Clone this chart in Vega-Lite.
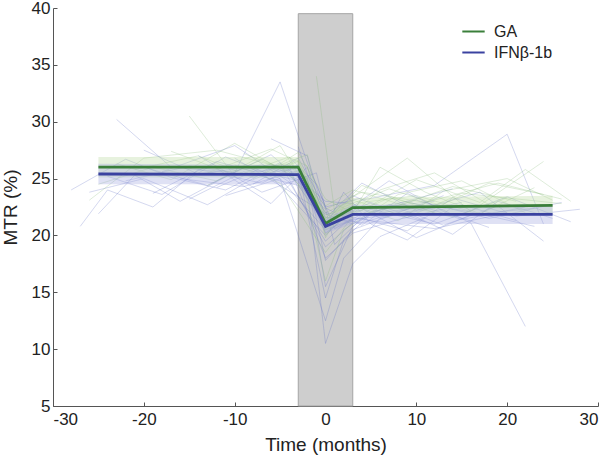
{
  "$schema": "https://vega.github.io/schema/vega-lite/v6.json",
  "width": 545,
  "height": 398,
  "autosize": "none",
  "padding": {"left": 53, "top": 8, "right": 12, "bottom": 49},
  "background": "white",
  "config": {
    "view": {"stroke": null},
    "font": "Liberation Sans",
    "axis": {"grid": false, "domainColor": "#555", "tickColor": "#555", "labelColor": "#222", "titleColor": "#222", "labelFont": "Liberation Sans", "titleFont": "Liberation Sans", "labelFontSize": 17, "titleFontSize": 19, "titleFontWeight": "normal", "tickSize": -4, "labelPadding": 9, "labelExpr": "datum.value + ''"}
  },
  "datasets": {
    "rect": [{"x1": -3, "x2": 3, "y1": 5, "y2": 39.5}],
    "main": [
      {"g": "GA", "t": -25, "v": 26.0, "lo": 25.1, "hi": 26.9},
      {"g": "GA", "t": -3, "v": 26.0, "lo": 25.1, "hi": 26.9},
      {"g": "GA", "t": 0, "v": 21.05, "lo": 20.4, "hi": 21.7},
      {"g": "GA", "t": 3, "v": 22.45, "lo": 21.8, "hi": 23.3},
      {"g": "GA", "t": 25, "v": 22.65, "lo": 21.9, "hi": 23.5},
      {"g": "IFNβ-1b", "t": -25, "v": 25.4, "lo": 24.5, "hi": 26.3},
      {"g": "IFNβ-1b", "t": -3, "v": 25.35, "lo": 24.5, "hi": 26.2},
      {"g": "IFNβ-1b", "t": 0, "v": 20.8, "lo": 20.2, "hi": 21.4},
      {"g": "IFNβ-1b", "t": 3, "v": 21.85, "lo": 21.0, "hi": 22.7},
      {"g": "IFNβ-1b", "t": 25, "v": 21.85, "lo": 21.0, "hi": 22.7}
    ],
    "subj": [
      {"id":1,"g":"I","t":-22,"v":24.8},{"id":1,"g":"I","t":-15,"v":26.1},{"id":1,"g":"I","t":-8,"v":25.3},{"id":1,"g":"I","t":-3,"v":25.9},{"id":1,"g":"I","t":0,"v":20.2},{"id":1,"g":"I","t":3,"v":22.1},{"id":1,"g":"I","t":9,"v":23.0},{"id":1,"g":"I","t":15,"v":21.4},{"id":1,"g":"I","t":22,"v":22.5},
      {"id":2,"g":"I","t":-18,"v":25.6},{"id":2,"g":"I","t":-10,"v":27.9},{"id":2,"g":"I","t":-4,"v":24.7},{"id":2,"g":"I","t":0,"v":19.5},{"id":2,"g":"I","t":2,"v":21.0},{"id":2,"g":"I","t":8,"v":22.8},{"id":2,"g":"I","t":14,"v":24.1},
      {"id":3,"g":"G","t":-26,"v":23.1},{"id":3,"g":"G","t":-20,"v":26.8},{"id":3,"g":"G","t":-12,"v":27.5},{"id":3,"g":"G","t":-5,"v":26.0},{"id":3,"g":"G","t":0,"v":22.3},{"id":3,"g":"G","t":4,"v":23.8},{"id":3,"g":"G","t":11,"v":22.9},{"id":3,"g":"G","t":19,"v":24.6},{"id":3,"g":"G","t":26,"v":23.2},
      {"id":4,"g":"I","t":-12,"v":24.2},{"id":4,"g":"I","t":-6,"v":26.3},{"id":4,"g":"I","t":-2,"v":25.1},{"id":4,"g":"I","t":0,"v":17.8},{"id":4,"g":"I","t":3,"v":20.5},{"id":4,"g":"I","t":7,"v":21.7},{"id":4,"g":"I","t":13,"v":23.5},
      {"id":5,"g":"G","t":-9,"v":27.2},{"id":5,"g":"G","t":-4,"v":25.6},{"id":5,"g":"G","t":0,"v":21.0},{"id":5,"g":"G","t":3,"v":23.4},{"id":5,"g":"G","t":9,"v":26.8},{"id":5,"g":"G","t":16,"v":22.1},
      {"id":6,"g":"I","t":-27,"v":20.8},{"id":6,"g":"I","t":-24,"v":24.0},{"id":6,"g":"I","t":-19,"v":22.5},{"id":6,"g":"I","t":-14,"v":25.8},{"id":6,"g":"I","t":-7,"v":24.6},{"id":6,"g":"I","t":-3,"v":26.2},{"id":6,"g":"I","t":0,"v":22.0},{"id":6,"g":"I","t":5,"v":21.3},{"id":6,"g":"I","t":12,"v":20.6},{"id":6,"g":"I","t":20,"v":22.0},
      {"id":7,"g":"I","t":-6,"v":28.5},{"id":7,"g":"I","t":-2,"v":27.0},{"id":7,"g":"I","t":0,"v":21.5},{"id":7,"g":"I","t":4,"v":24.6},{"id":7,"g":"I","t":10,"v":22.2},{"id":7,"g":"I","t":17,"v":23.8},{"id":7,"g":"I","t":24,"v":19.5},
      {"id":8,"g":"G","t":-15,"v":30.5},{"id":8,"g":"G","t":-10,"v":25.2},{"id":8,"g":"G","t":-4,"v":26.9},{"id":8,"g":"G","t":0,"v":20.8},{"id":8,"g":"G","t":3,"v":21.9},{"id":8,"g":"G","t":6,"v":24.0},{"id":8,"g":"G","t":12,"v":25.5},{"id":8,"g":"G","t":18,"v":22.7},
      {"id":9,"g":"I","t":-11,"v":23.5},{"id":9,"g":"I","t":-5,"v":25.0},{"id":9,"g":"I","t":0,"v":12.5},{"id":9,"g":"I","t":2,"v":18.0},{"id":9,"g":"I","t":6,"v":21.5},{"id":9,"g":"I","t":12,"v":22.6},
      {"id":10,"g":"I","t":-20,"v":26.0},{"id":10,"g":"I","t":-13,"v":24.4},{"id":10,"g":"I","t":-6,"v":27.1},{"id":10,"g":"I","t":0,"v":23.0},{"id":10,"g":"I","t":3,"v":22.8},{"id":10,"g":"I","t":10,"v":19.8},{"id":10,"g":"I","t":16,"v":21.8},{"id":10,"g":"I","t":23,"v":22.4},
      {"id":11,"g":"G","t":-8,"v":24.9},{"id":11,"g":"G","t":-3,"v":26.5},{"id":11,"g":"G","t":0,"v":16.0},{"id":11,"g":"G","t":2,"v":20.5},{"id":11,"g":"G","t":8,"v":23.6},{"id":11,"g":"G","t":15,"v":24.8},{"id":11,"g":"G","t":22,"v":22.0},
      {"id":12,"g":"I","t":-25,"v":21.9},{"id":12,"g":"I","t":-21,"v":25.3},{"id":12,"g":"I","t":-16,"v":23.0},{"id":12,"g":"I","t":-9,"v":26.0},{"id":12,"g":"I","t":-3,"v":24.8},{"id":12,"g":"I","t":0,"v":21.1},{"id":12,"g":"I","t":5,"v":22.9},{"id":12,"g":"I","t":11,"v":21.2},
      {"id":13,"g":"I","t":-14,"v":27.0},{"id":13,"g":"I","t":-7,"v":23.8},{"id":13,"g":"I","t":-1,"v":25.5},{"id":13,"g":"I","t":1,"v":19.2},{"id":13,"g":"I","t":4,"v":21.5},{"id":13,"g":"I","t":9,"v":20.4},{"id":13,"g":"I","t":14,"v":23.3},{"id":13,"g":"I","t":21,"v":21.7},{"id":13,"g":"I","t":28,"v":22.3},
      {"id":14,"g":"G","t":-23,"v":26.3},{"id":14,"g":"G","t":-17,"v":24.9},{"id":14,"g":"G","t":-10,"v":28.1},{"id":14,"g":"G","t":-4,"v":25.4},{"id":14,"g":"G","t":0,"v":21.8},{"id":14,"g":"G","t":3,"v":22.6},{"id":14,"g":"G","t":8,"v":21.3},{"id":14,"g":"G","t":13,"v":23.9},{"id":14,"g":"G","t":20,"v":25.0},{"id":14,"g":"G","t":25,"v":23.1},
      {"id":15,"g":"I","t":-5,"v":25.8},{"id":15,"g":"I","t":-2,"v":24.1},{"id":15,"g":"I","t":0,"v":10.5},{"id":15,"g":"I","t":3,"v":17.5},{"id":15,"g":"I","t":6,"v":19.9},{"id":15,"g":"I","t":11,"v":21.6},
      {"id":16,"g":"I","t":-19,"v":23.7},{"id":16,"g":"I","t":-12,"v":26.5},{"id":16,"g":"I","t":-6,"v":25.2},{"id":16,"g":"I","t":0,"v":20.0},{"id":16,"g":"I","t":4,"v":23.1},{"id":16,"g":"I","t":12,"v":24.4},{"id":16,"g":"I","t":20,"v":28.9},{"id":16,"g":"I","t":24,"v":21.0},
      {"id":17,"g":"G","t":-13,"v":25.5},{"id":17,"g":"G","t":-6,"v":27.6},{"id":17,"g":"G","t":-2,"v":26.1},{"id":17,"g":"G","t":0,"v":19.8},{"id":17,"g":"G","t":2,"v":22.5},{"id":17,"g":"G","t":7,"v":24.1},{"id":17,"g":"G","t":14,"v":22.3},
      {"id":18,"g":"I","t":-10,"v":26.8},{"id":18,"g":"I","t":-4,"v":23.9},{"id":18,"g":"I","t":0,"v":21.9},{"id":18,"g":"I","t":3,"v":21.0},{"id":18,"g":"I","t":7,"v":22.7},{"id":18,"g":"I","t":13,"v":20.9},{"id":18,"g":"I","t":19,"v":22.6},
      {"id":19,"g":"I","t":-28,"v":24.0},{"id":19,"g":"I","t":-22,"v":26.7},{"id":19,"g":"I","t":-17,"v":25.1},{"id":19,"g":"I","t":-11,"v":24.0},{"id":19,"g":"I","t":-5,"v":26.4},{"id":19,"g":"I","t":0,"v":19.0},{"id":19,"g":"I","t":4,"v":21.8},{"id":19,"g":"I","t":10,"v":23.1},{"id":19,"g":"I","t":18,"v":21.5},{"id":19,"g":"I","t":26,"v":22.9},
      {"id":20,"g":"G","t":-7,"v":25.3},{"id":20,"g":"G","t":-3,"v":27.3},{"id":20,"g":"G","t":0,"v":23.2},{"id":20,"g":"G","t":3,"v":22.0},{"id":20,"g":"G","t":6,"v":26.0},{"id":20,"g":"G","t":11,"v":23.8},{"id":20,"g":"G","t":17,"v":21.9},{"id":20,"g":"G","t":23,"v":24.2},
      {"id":21,"g":"I","t":-16,"v":25.0},{"id":21,"g":"I","t":-9,"v":24.3},{"id":21,"g":"I","t":-3,"v":25.7},{"id":21,"g":"I","t":0,"v":14.5},{"id":21,"g":"I","t":2,"v":19.6},{"id":21,"g":"I","t":5,"v":21.9},{"id":21,"g":"I","t":10,"v":22.4},
      {"id":22,"g":"I","t":-4,"v":26.9},{"id":22,"g":"I","t":-1,"v":24.5},{"id":22,"g":"I","t":1,"v":20.6},{"id":22,"g":"I","t":5,"v":22.3},{"id":22,"g":"I","t":12,"v":21.0},{"id":22,"g":"I","t":20,"v":23.4},{"id":22,"g":"I","t":27,"v":21.2},
      {"id":23,"g":"G","t":-21,"v":25.8},{"id":23,"g":"G","t":-14,"v":27.0},{"id":23,"g":"G","t":-8,"v":25.1},{"id":23,"g":"G","t":-3,"v":26.6},{"id":23,"g":"G","t":0,"v":21.2},{"id":23,"g":"G","t":4,"v":22.9},{"id":23,"g":"G","t":10,"v":23.5},{"id":23,"g":"G","t":16,"v":22.1},{"id":23,"g":"G","t":24,"v":26.5},
      {"id":24,"g":"I","t":-12,"v":25.9},{"id":24,"g":"I","t":-6,"v":22.8},{"id":24,"g":"I","t":-2,"v":26.0},{"id":24,"g":"I","t":0,"v":21.3},{"id":24,"g":"I","t":3,"v":23.5},{"id":24,"g":"I","t":8,"v":21.8},{"id":24,"g":"I","t":15,"v":22.9},
      {"id":25,"g":"I","t":-24,"v":25.2},{"id":25,"g":"I","t":-18,"v":23.6},{"id":25,"g":"I","t":-11,"v":26.9},{"id":25,"g":"I","t":-5,"v":25.0},{"id":25,"g":"I","t":0,"v":20.5},{"id":25,"g":"I","t":3,"v":21.4},{"id":25,"g":"I","t":9,"v":22.0},{"id":25,"g":"I","t":14,"v":20.1},{"id":25,"g":"I","t":19,"v":23.0},{"id":25,"g":"I","t":25,"v":21.5},
      {"id":26,"g":"G","t":-10,"v":26.2},{"id":26,"g":"G","t":-5,"v":24.6},{"id":26,"g":"G","t":0,"v":18.5},{"id":26,"g":"G","t":3,"v":21.7},{"id":26,"g":"G","t":8,"v":22.6},{"id":26,"g":"G","t":14,"v":24.3},{"id":26,"g":"G","t":21,"v":23.0},
      {"id":27,"g":"I","t":-8,"v":24.5},{"id":27,"g":"I","t":-3,"v":26.8},{"id":27,"g":"I","t":0,"v":22.4},{"id":27,"g":"I","t":4,"v":20.9},{"id":27,"g":"I","t":9,"v":23.7},{"id":27,"g":"I","t":16,"v":21.1},{"id":27,"g":"I","t":22,"v":12.0},
      {"id":28,"g":"G","t":-17,"v":27.4},{"id":28,"g":"G","t":-11,"v":25.6},{"id":28,"g":"G","t":-4,"v":26.3},{"id":28,"g":"G","t":0,"v":22.0},{"id":28,"g":"G","t":3,"v":23.1},{"id":28,"g":"G","t":9,"v":21.6},{"id":28,"g":"G","t":15,"v":23.7},{"id":28,"g":"G","t":26,"v":22.8},
      {"id":29,"g":"I","t":-15,"v":23.2},{"id":29,"g":"I","t":-9,"v":25.6},{"id":29,"g":"I","t":-3,"v":24.4},{"id":29,"g":"I","t":0,"v":20.9},{"id":29,"g":"I","t":2,"v":22.0},{"id":29,"g":"I","t":7,"v":24.8},{"id":29,"g":"I","t":13,"v":22.1},{"id":29,"g":"I","t":18,"v":20.7},
      {"id":30,"g":"I","t":-20,"v":27.5},{"id":30,"g":"I","t":-14,"v":25.4},{"id":30,"g":"I","t":-7,"v":26.2},{"id":30,"g":"I","t":-2,"v":25.0},{"id":30,"g":"I","t":0,"v":15.5},{"id":30,"g":"I","t":3,"v":20.8},{"id":30,"g":"I","t":6,"v":22.5},{"id":30,"g":"I","t":12,"v":23.0},
      {"id":31,"g":"G","t":-6,"v":25.9},{"id":31,"g":"G","t":-2,"v":27.1},{"id":31,"g":"G","t":0,"v":20.1},{"id":31,"g":"G","t":2,"v":21.5},{"id":31,"g":"G","t":7,"v":23.3},{"id":31,"g":"G","t":12,"v":22.4},{"id":31,"g":"G","t":18,"v":24.6},{"id":31,"g":"G","t":24,"v":23.6},
      {"id":32,"g":"I","t":-26,"v":23.8},{"id":32,"g":"I","t":-20,"v":25.0},{"id":32,"g":"I","t":-13,"v":22.7},{"id":32,"g":"I","t":-6,"v":25.9},{"id":32,"g":"I","t":-3,"v":24.9},{"id":32,"g":"I","t":0,"v":21.6},{"id":32,"g":"I","t":4,"v":21.1},{"id":32,"g":"I","t":11,"v":22.8},{"id":32,"g":"I","t":17,"v":21.9},{"id":32,"g":"I","t":23,"v":20.8},
      {"id":33,"g":"G","t":-13,"v":24.4},{"id":33,"g":"G","t":-7,"v":26.7},{"id":33,"g":"G","t":-3,"v":25.2},{"id":33,"g":"G","t":0,"v":22.6},{"id":33,"g":"G","t":3,"v":24.0},{"id":33,"g":"G","t":8,"v":22.8},{"id":33,"g":"G","t":14,"v":21.6},{"id":33,"g":"G","t":20,"v":23.3},
      {"id":34,"g":"I","t":-9,"v":25.4},{"id":34,"g":"I","t":-4,"v":26.1},{"id":34,"g":"I","t":0,"v":18.0},{"id":34,"g":"I","t":3,"v":20.2},{"id":34,"g":"I","t":8,"v":21.4},{"id":34,"g":"I","t":15,"v":22.7},{"id":34,"g":"I","t":21,"v":21.3},
      {"id":35,"g":"I","t":-3,"v":27.8},{"id":35,"g":"I","t":0,"v":20.7},{"id":35,"g":"I","t":2,"v":23.8},{"id":35,"g":"I","t":5,"v":21.0},{"id":35,"g":"I","t":9,"v":19.6},{"id":35,"g":"I","t":14,"v":22.5},
      {"id":36,"g":"G","t":-25,"v":24.5},{"id":36,"g":"G","t":-19,"v":26.0},{"id":36,"g":"G","t":-12,"v":24.8},{"id":36,"g":"G","t":-5,"v":27.9},{"id":36,"g":"G","t":0,"v":21.5},{"id":36,"g":"G","t":4,"v":22.2},{"id":36,"g":"G","t":10,"v":24.9},{"id":36,"g":"G","t":17,"v":22.9},{"id":36,"g":"G","t":22,"v":25.8},{"id":36,"g":"G","t":27,"v":23.0},
      {"id":37,"g":"I","t":-23,"v":30.2},{"id":37,"g":"I","t":-17,"v":26.0},{"id":37,"g":"I","t":-10,"v":25.5},{"id":37,"g":"I","t":-5,"v":33.5},{"id":37,"g":"I","t":-2,"v":26.4},{"id":37,"g":"I","t":0,"v":22.5},{"id":37,"g":"I","t":4,"v":23.3},
      {"id":38,"g":"G","t":-1,"v":34.0},{"id":38,"g":"G","t":1,"v":22.1},{"id":38,"g":"G","t":4,"v":24.4},{"id":38,"g":"G","t":12,"v":22.0}
    ]
  },
  "layer": [
    {
      "data": {"name": "rect"},
      "mark": {"type": "rect", "fill": "#cecece", "stroke": "#a5a5a5", "strokeWidth": 1},
      "encoding": {
        "x": {"field": "x1", "type": "quantitative", "scale": {"domain": [-30, 30], "nice": false, "zero": false}, "axis": {"values": [-30, -20, -10, 0, 10, 20, 30], "title": "Time (months)", "titlePadding": 8}},
        "x2": {"field": "x2"},
        "y": {"field": "y1", "type": "quantitative", "scale": {"domain": [5, 40], "nice": false, "zero": false}, "axis": {"values": [5, 10, 15, 20, 25, 30, 35, 40], "title": "MTR (%)", "labelPadding": 7, "titlePadding": 11}},
        "y2": {"field": "y2"}
      }
    },
    {
      "data": {"name": "subj"},
      "transform": [{"filter": "datum.g === 'I'"}],
      "mark": {"type": "line", "stroke": "#6470c4", "strokeWidth": 0.8, "opacity": 0.35},
      "encoding": {
        "x": {"field": "t", "type": "quantitative"},
        "y": {"field": "v", "type": "quantitative"},
        "detail": {"field": "id"},
        "order": {"field": "t"}
      }
    },
    {
      "data": {"name": "subj"},
      "transform": [{"filter": "datum.g === 'G'"}],
      "mark": {"type": "line", "stroke": "#86b878", "strokeWidth": 0.8, "opacity": 0.35},
      "encoding": {
        "x": {"field": "t", "type": "quantitative"},
        "y": {"field": "v", "type": "quantitative"},
        "detail": {"field": "id"},
        "order": {"field": "t"}
      }
    },
    {
      "data": {"name": "main"},
      "transform": [{"filter": "datum.g === 'GA'"}],
      "mark": {"type": "area", "fill": "#b9dba0", "opacity": 0.35},
      "encoding": {
        "x": {"field": "t", "type": "quantitative"},
        "y": {"field": "lo", "type": "quantitative"},
        "y2": {"field": "hi"}
      }
    },
    {
      "data": {"name": "main"},
      "transform": [{"filter": "datum.g !== 'GA'"}],
      "mark": {"type": "area", "fill": "#a3a8e0", "opacity": 0.35},
      "encoding": {
        "x": {"field": "t", "type": "quantitative"},
        "y": {"field": "lo", "type": "quantitative"},
        "y2": {"field": "hi"}
      }
    },
    {
      "data": {"name": "main"},
      "mark": {"type": "line", "strokeWidth": 2.8},
      "encoding": {
        "x": {"field": "t", "type": "quantitative"},
        "y": {"field": "v", "type": "quantitative"},
        "color": {"field": "g", "type": "nominal", "scale": {"domain": ["GA", "IFNβ-1b"], "range": ["#3a7f3a", "#3a42a0"]},
          "legend": {"title": null, "orient": "none", "legendX": 408, "legendY": 11, "symbolType": "stroke", "symbolStrokeWidth": 2, "symbolSize": 500, "labelFontSize": 16, "labelFont": "Liberation Sans", "labelColor": "#222", "rowPadding": -2, "labelOffset": 8}}
      }
    }
  ]
}
